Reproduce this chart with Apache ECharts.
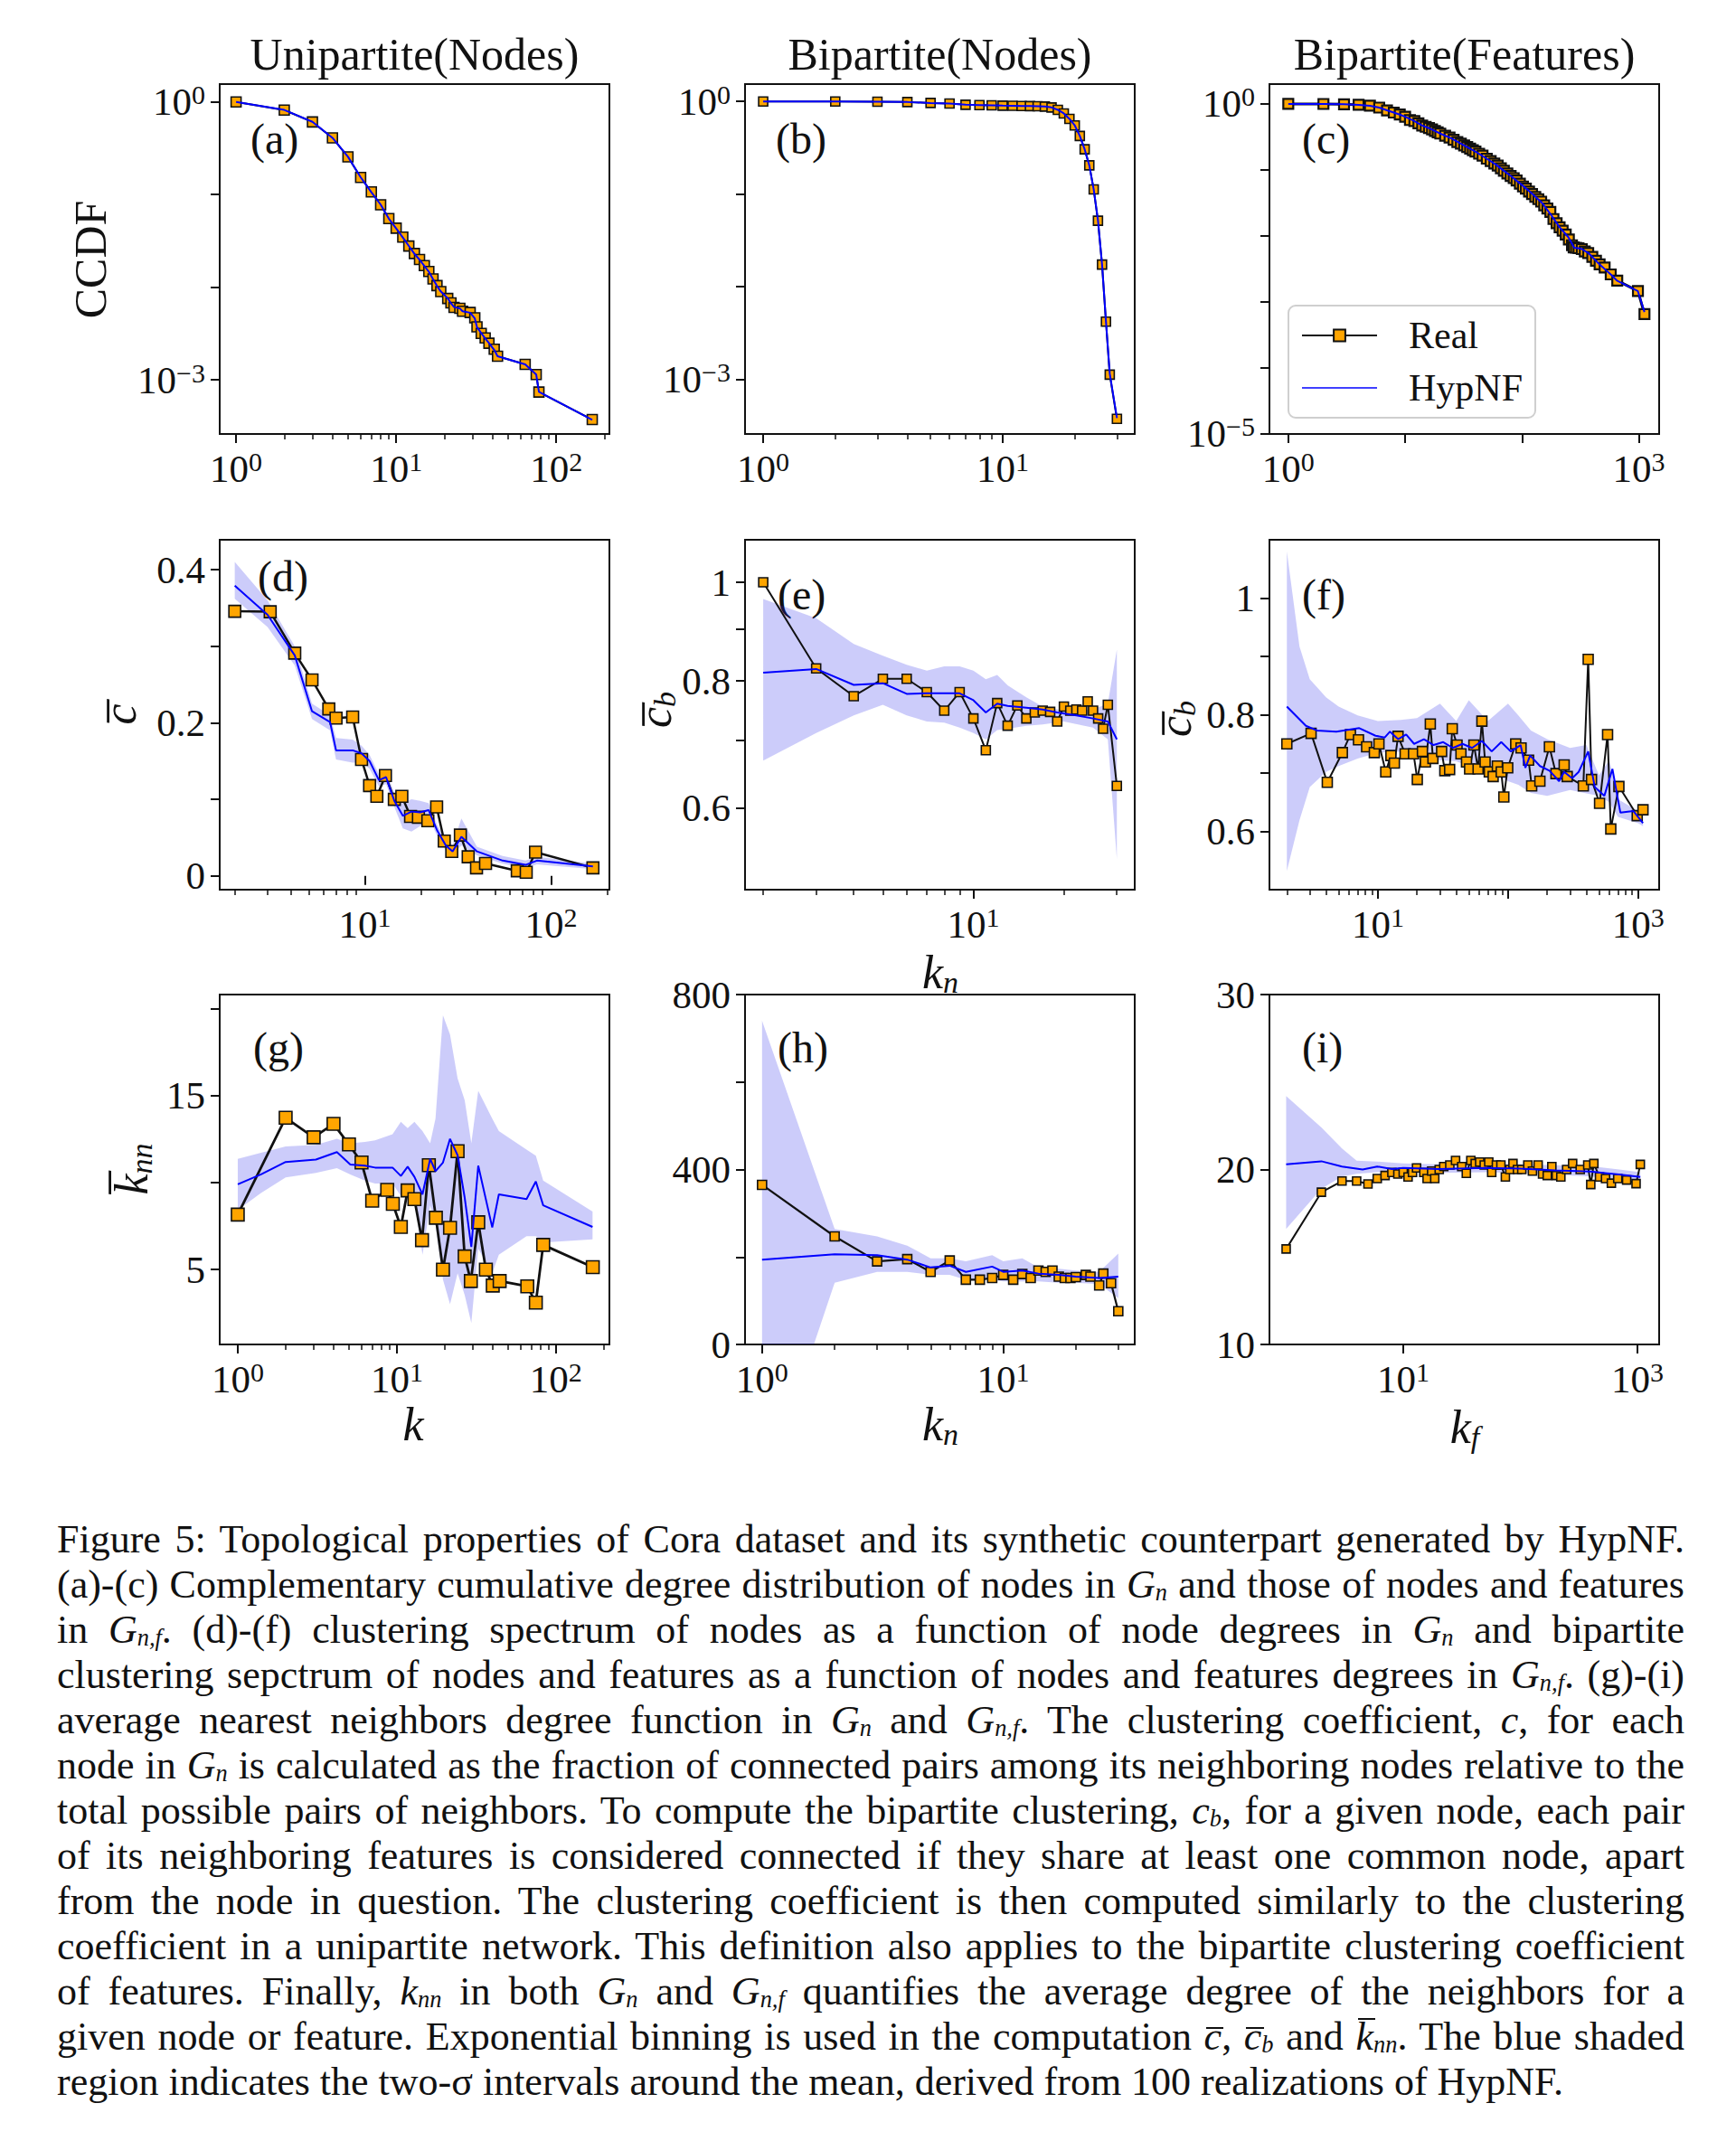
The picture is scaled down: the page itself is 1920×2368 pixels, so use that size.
<!DOCTYPE html>
<html><head><meta charset="utf-8">
<script src="https://cdn.jsdelivr.net/npm/echarts@6/dist/echarts.min.js"></script>
<style>
html,body{margin:0;padding:0;background:#fff;}
#chart{position:absolute;left:0;top:0;width:1920px;height:1660px;}
#cap{position:absolute;left:63px;top:1678px;width:1800px;font-family:'Liberation Serif','Times New Roman',serif;font-size:44px;line-height:50px;color:#111;word-spacing:-2px;}
#cap .l{text-align:justify;text-align-last:justify;white-space:nowrap;height:50px;}
#cap .l.last{text-align-last:left;word-spacing:0;}
#cap sub{font-size:0.6em;line-height:0;vertical-align:-0.1em;}
#cap .ov{position:relative;}
#cap .ov::before{content:'';position:absolute;left:0.05em;right:-0.05em;top:0.32em;border-top:2px solid #111;}
#cap .ov.tall::before{top:0.08em;}
</style></head>
<body>
<div id="chart"></div>
<div id="cap">
<div class="l">Figure 5: Topological properties of Cora dataset and its synthetic counterpart generated by HypNF.</div>
<div class="l">(a)-(c) Complementary cumulative degree distribution of nodes in <i>G</i><sub><i>n</i></sub> and those of nodes and features</div>
<div class="l">in <i>G</i><sub><i>n,f</i></sub>. (d)-(f) clustering spectrum of nodes as a function of node degrees in <i>G</i><sub><i>n</i></sub> and bipartite</div>
<div class="l">clustering sepctrum of nodes and features as a function of nodes and features degrees in <i>G</i><sub><i>n,f</i></sub>. (g)-(i)</div>
<div class="l">average nearest neighbors degree function in <i>G</i><sub><i>n</i></sub> and <i>G</i><sub><i>n,f</i></sub>. The clustering coefficient, <i>c</i>, for each</div>
<div class="l">node in <i>G</i><sub><i>n</i></sub> is calculated as the fraction of connected pairs among its neighboring nodes relative to the</div>
<div class="l">total possible pairs of neighbors. To compute the bipartite clustering, <i>c</i><sub><i>b</i></sub>, for a given node, each pair</div>
<div class="l">of its neighboring features is considered connected if they share at least one common node, apart</div>
<div class="l">from the node in question. The clustering coefficient is then computed similarly to the clustering</div>
<div class="l">coefficient in a unipartite network. This definition also applies to the bipartite clustering coefficient</div>
<div class="l">of features. Finally, <i>k</i><sub><i>nn</i></sub> in both <i>G</i><sub><i>n</i></sub> and <i>G</i><sub><i>n,f</i></sub> quantifies the average degree of the neighbors for a</div>
<div class="l">given node or feature. Exponential binning is used in the computation <span class="ov"><i>c</i></span>, <span class="ov"><i>c</i></span><sub><i>b</i></sub> and <span class="ov tall"><i>k</i></span><sub><i>nn</i></sub>. The blue shaded</div>
<div class="l last">region indicates the two-σ intervals around the mean, derived from 100 realizations of HypNF.</div>
</div>
<script>
// ---------------- DATA ----------------
// (a) Unipartite CCDF
const aRealK = [1,2,3,4,5,6,7,8,9,10,11,12,13,14,15,16,17,18,19,21,22,23,25,26,29,31,32,34,36,38,41,43,64,75,78,168];
const aRealCCDF = [1,0.818,0.608,0.41,0.255,0.153,0.107,0.0775,0.055,0.0434,0.0347,0.0278,0.0231,0.0199,0.0171,0.0148,0.0123,0.0104,0.00897,0.00756,0.00676,0.00605,0.00592,0.0055,0.00533,0.00467,0.00373,0.00317,0.00283,0.00248,0.00214,0.0018,0.00147,0.00114,0.000738,0.000372];
const aHypK = [1,2,3,4,5,6,7,8,9,10,11,12,13,14,15,16,17,18,19,21,22,23,25,26,29,31,32,34,36,38,41,43,64,75,78,168];
const aHypCCDF = [1,0.82,0.61,0.41,0.256,0.154,0.106,0.078,0.055,0.0432,0.0345,0.0279,0.023,0.0198,0.017,0.0147,0.0122,0.0103,0.009,0.0076,0.0067,0.0061,0.0059,0.0055,0.0053,0.0046,0.0037,0.0032,0.0028,0.0025,0.0021,0.0018,0.00147,0.00114,0.00074,0.00037];
// (b) Bipartite nodes CCDF
const bRealK = [1,2,3,4,5,6,7,8,9,10,11,12,13,14,15,16,17,18,19,20,21,22,23,24,25,26,27,28,30];
const bRealCCDF = [1,1,0.993,0.985,0.963,0.949,0.921,0.914,0.908,0.901,0.898,0.894,0.891,0.888,0.881,0.861,0.812,0.742,0.649,0.551,0.424,0.304,0.204,0.112,0.0515,0.0173,0.00418,0.00112,0.000373];
const bHypK = [1,2,3,4,5,6,7,8,9,10,11,12,13,14,15,16,17,18,19,20,21,22,23,24,25,26,27,28,30];
const bHypCCDF = [1,1,0.993,0.985,0.963,0.949,0.921,0.914,0.908,0.901,0.898,0.894,0.891,0.888,0.881,0.861,0.812,0.742,0.649,0.551,0.424,0.304,0.204,0.112,0.052,0.0175,0.0042,0.00115,0.00038];
// (c) Bipartite features CCDF
const cRealK = [1,2,3,4,5,6,7,8,9,10,11,12,13,14,15,16,17,18,19,20,22,24,26,28,30,32,34,36,38,40,43,46,50,54,58,62,66,70,75,80,85,90,96,102,108,115,122,130,138,146,155,165,175,186,198,210,223,237,252,268,277,290,305,325,345,369,400,430,462,510,575,654,983,1118];
const cRealCCDF = [1,0.998,0.99,0.97,0.94,0.88,0.80,0.74,0.69,0.64,0.57,0.55,0.51,0.47,0.45,0.43,0.41,0.39,0.37,0.355,0.33,0.31,0.285,0.265,0.25,0.235,0.222,0.21,0.199,0.19,0.176,0.165,0.148,0.136,0.125,0.116,0.106,0.097,0.088,0.081,0.075,0.069,0.062,0.056,0.052,0.047,0.043,0.039,0.036,0.033,0.029,0.026,0.023,0.018,0.0155,0.0135,0.012,0.0105,0.0088,0.0072,0.0067,0.0066,0.0065,0.0063,0.0058,0.0055,0.0048,0.0042,0.0037,0.0033,0.0026,0.0021,0.00146,0.00065];
const cHypK = [1,2,3,4,5,6,7,8,9,10,12,14,16,18,20,25,30,35,40,50,60,70,80,100,120,150,180,210,250,280,320,370,460,575,650,980,1118];
const cHypCCDF = [1,0.998,0.99,0.97,0.94,0.88,0.80,0.74,0.69,0.64,0.55,0.47,0.43,0.39,0.355,0.30,0.25,0.215,0.19,0.148,0.12,0.097,0.081,0.059,0.045,0.031,0.02,0.0135,0.0095,0.0066,0.0064,0.0055,0.0037,0.0026,0.0021,0.00146,0.0007];
// (d) clustering spectrum, unipartite
const dRealK = [2,3.1,4.2,5.2,6.4,7.0,8.6,9.6,10.6,11.6,12.9,14.4,15.8,17.6,19.4,21.8,24.3,26.7,29.3,32.6,35.9,39.8,44.5,65.9,73.6,82.6,168];
const dRealC = [0.3456,0.345,0.291,0.256,0.218,0.206,0.2076,0.152,0.118,0.104,0.131,0.0999,0.104,0.0777,0.0766,0.072,0.090,0.0455,0.0319,0.0533,0.0249,0.0105,0.0163,0.0066,0.0047,0.031,0.0105];
const dHypK = [2,3,4.2,5.2,6.5,7,8.6,9.6,10.6,11.9,13,14.4,16,17.8,19.8,22,24.5,27.2,29.6,33,40,55,73,84,168];
const dHypC = [0.379,0.341,0.288,0.215,0.201,0.164,0.164,0.16,0.150,0.125,0.129,0.098,0.0785,0.084,0.083,0.086,0.059,0.040,0.032,0.051,0.032,0.02,0.0144,0.02,0.0124];
const dBandLo = [0.362,0.325,0.275,0.205,0.19,0.152,0.148,0.148,0.14,0.117,0.12,0.09,0.062,0.058,0.065,0.077,0.052,0.033,0.026,0.04,0.027,0.016,0.010,0.015,0.009];
const dBandHi = [0.41,0.36,0.30,0.225,0.21,0.18,0.178,0.17,0.158,0.133,0.137,0.108,0.095,0.10,0.098,0.095,0.066,0.048,0.04,0.075,0.038,0.026,0.02,0.025,0.016];
// (e) bipartite clustering, nodes
const eRealK = [2,3,4,5,6,7,8,9,10,11,12,13,14,15,16,17,18,19,20,21,22,23,24,25,26,27,28,30];
const eRealCb = [1.0,0.823,0.773,0.804,0.804,0.780,0.748,0.780,0.735,0.684,0.761,0.723,0.757,0.735,0.745,0.748,0.746,0.730,0.755,0.748,0.750,0.748,0.764,0.748,0.735,0.718,0.758,0.631];
const eHypK = [2,3,4,5,6,7,9,10,11,12,13,15,17,19,22,25,28,30];
const eHypCb = [0.815,0.822,0.793,0.796,0.777,0.778,0.778,0.766,0.745,0.760,0.756,0.753,0.750,0.745,0.740,0.735,0.730,0.701];
const eBandK = [2,3,4,5,6,7,8,9,10,11,12,13,15,17,20,25,28,30];
const eBandLo = [0.668,0.711,0.740,0.758,0.740,0.730,0.728,0.720,0.711,0.701,0.716,0.718,0.723,0.725,0.730,0.720,0.701,0.535];
const eBandHi = [0.963,0.922,0.870,0.847,0.830,0.819,0.827,0.827,0.819,0.803,0.811,0.792,0.771,0.755,0.748,0.750,0.760,0.859];
// (f) bipartite clustering, features
const fRealK = [2.0,3.07,4.09,5.34,6.16,7.1,8.2,9.4,10.2,11.5,12.6,13.4,14.3,16.2,18.8,20.1,22,23.2,25.3,26.5,30.9,32.7,35.6,37.3,40.6,43.5,48,50.7,54.7,58.9,63,66.7,71.8,76.9,82.8,88.7,92.9,99.5,114.6,126,143.9,152,175.8,208,233.6,270,285,379,413,438,505,582,616,711,983,1089];
const fRealCb = [0.750,0.768,0.684,0.735,0.766,0.757,0.745,0.735,0.750,0.702,0.730,0.717,0.763,0.733,0.733,0.689,0.737,0.719,0.784,0.725,0.737,0.704,0.706,0.776,0.748,0.733,0.719,0.707,0.748,0.707,0.789,0.719,0.702,0.694,0.712,0.702,0.659,0.709,0.750,0.743,0.722,0.678,0.686,0.745,0.699,0.714,0.694,0.678,0.895,0.689,0.648,0.766,0.604,0.677,0.627,0.637];
const fHypK = [2,2.8,3.4,4.8,7.2,9.6,11.3,12.4,14.3,16.5,19,22.6,26.8,31.8,37.7,44.7,53,63,74.9,88.7,105,125,136,148,176,208,247,270,311,349,413,464,550,634,730,917,1089];
const fHypCb = [0.814,0.781,0.773,0.771,0.777,0.764,0.761,0.771,0.758,0.766,0.750,0.758,0.748,0.753,0.743,0.750,0.743,0.755,0.737,0.753,0.737,0.748,0.709,0.730,0.712,0.704,0.686,0.702,0.691,0.702,0.737,0.676,0.661,0.707,0.632,0.635,0.614];
const fBandK = [2,2.5,3,4,5,7,10,15,20,30,40,50,70,100,120,150,200,300,400,500,600,700,1000,1089];
const fBandLo = [0.532,0.619,0.676,0.702,0.712,0.725,0.735,0.737,0.732,0.722,0.72,0.712,0.707,0.686,0.68,0.666,0.661,0.671,0.665,0.661,0.65,0.625,0.614,0.609];
const fBandHi = [1.08,0.917,0.861,0.830,0.814,0.799,0.789,0.791,0.794,0.819,0.789,0.825,0.789,0.819,0.799,0.773,0.758,0.743,0.748,0.696,0.722,0.655,0.635,0.63];
// (g) average nearest neighbour degree, unipartite
const gRealK = [1,2,3,4,5,6,7,8.7,9.44,10.6,11.7,12.9,14.4,15.9,17.6,19.5,21.6,24.1,26.7,29.2,32.5,36.3,40.1,44.3,66.1,74.8,83.2,170.6];
const gRealKnn = [8.16,13.72,12.60,13.37,12.19,11.15,8.96,9.58,8.78,7.45,9.55,9.05,6.69,11.0,7.98,5.0,7.40,11.80,5.76,4.34,7.72,5.0,4.08,4.34,4.04,3.10,6.42,5.14];
const gHypK = [1,1.4,2,3.1,4.2,5.1,6.3,7.3,9.4,10.6,11.7,12.9,14.5,16.2,17.5,19.5,21.6,24.1,26.7,29.4,32.5,39.8,43.8,65.4,74.8,83.2,170];
const gHypKnn = [9.90,10.47,11.18,11.32,11.75,11.04,10.97,10.86,10.86,10.38,10.91,10.33,9.32,11.36,10.65,11.15,12.51,11.57,9.14,6.30,10.97,7.42,9.32,9.05,10.06,8.69,7.45];
const gBandLo = [8.43,9.40,10.29,10.56,10.83,10.47,10.12,9.94,9.94,9.23,9.76,9.05,5.85,8.69,7.63,4.43,3.01,4.79,3.54,1.94,6.21,4.79,5.85,6.92,6.92,6.56,6.74];
const gBandHi = [11.36,11.71,12.07,12.16,12.51,12.25,12.34,12.42,12.78,13.49,13.13,13.49,12.96,12.25,13.67,19.6,18.5,15.98,14.73,12.25,15.27,13.67,12.96,11.89,11.54,10.12,8.34];
// (h) average nearest neighbour degree, bipartite nodes
const hRealK = [1,2,3,4,5,6,7,8,9,10,11,12,13,14,15,16,17,18,19,20,22,23,25,26,28,30];
const hRealKnn = [365,247,190,195,166,192,148,148,152,159,148,161,152,169,166,169,155,152,152,154,159,155,135,162,140,76];
const hHypK = [1,2,3,4,5,6,7,9,10,12,14,17,20,25,30];
const hHypKnn = [194,206,204,194,176,180,166,178,166,169,162,159,155,152,155];
const hBandK = [1,1.64,2,3,4,5,6,7,9,10,12,14,17,20,25,30];
const hBandLo = [0,0,141,166,166,159,159,148,148,144,144,144,141,141,138,106];
const hBandHi = [740,400,264,247,226,197,197,190,204,190,197,176,173,169,166,208];
// (i) average nearest neighbour degree, bipartite features
const iRealK = [1,2,3,4,5,6,7,8,9,10,11,12,13,15,16,17.5,18.6,20.3,22.2,25,28,31.6,34.6,37.8,41.2,45,49.2,53.8,57,62.5,68.3,74.6,81.5,86.6,94.6,103,116,127,142,155,170,186,203,222,249,280,325,377,400,425,475,535,600,680,810,975,1060];
const iRealKnn = [15.46,18.7,19.34,19.34,19.17,19.48,19.66,19.83,19.74,19.83,19.57,19.83,20.09,19.83,19.48,19.91,19.48,20.0,20.17,20.26,20.52,20.17,19.78,20.52,20.34,20.43,20.26,20.43,19.83,20.26,20.26,19.57,20.0,20.34,20.0,20.0,20.26,19.91,20.26,19.74,19.66,20.17,19.66,19.57,20.0,20.34,20.0,20.26,19.14,20.34,19.57,19.48,19.22,19.48,19.40,19.19,20.29];
const iHypK = [1,2,3,4.5,6,8,10,20,50,100,200,400,700,1060];
const iHypKnn = [20.3,20.47,20.17,20.0,20.17,20.03,20.09,20.03,20.09,20.05,19.95,19.88,19.71,19.57];
const iBandK = [1,2,3,4,6,10,20,50,100,200,400,700,1060];
const iBandLo = [16.6,18.9,19.6,19.75,19.85,19.85,19.8,19.85,19.8,19.7,19.6,19.45,19.3];
const iBandHi = [24.2,22.4,21.2,20.5,20.45,20.35,20.3,20.35,20.3,20.25,20.2,20.0,19.85];

// tick labels / titles
const colTitles = ['Unipartite(Nodes)','Bipartite(Nodes)','Bipartite(Features)'];
const panelLetters = ['(a)','(b)','(c)','(d)','(e)','(f)','(g)','(h)','(i)'];

// ---------------- STYLE / LAYOUT ----------------
const FONT = "'Liberation Serif','Times New Roman',serif";
const COL_L = [243, 824, 1404], COL_W = 431;
const ROW_T = [93, 597, 1100], ROW_H = 387;
const ORANGE = '#FFA500', BLUE = '#0000FF', BAND = 'rgba(40,40,235,0.24)';

function minorsFor(decs, lo, hi) {
  const out = [];
  decs.forEach(d => { for (let m = 2; m <= 9; m++) { const v = m * d; if (v > lo && v < hi) out.push(v); } });
  return out;
}
const zip2 = (xs, ys) => xs.map((x, j) => [x, ys[j]]);
const zip3 = (xs, a, b) => xs.map((x, j) => [x, a[j], b[j]]);

const P = [
  { x:{min:0.79,max:215,major:[1,10,100],lab:[1,10,100],minor:minorsFor([1,10,100],0.79,215)},
    y:{type:'log',min:2.6e-4,max:1.56,major:[1,0.1,0.01,0.001],lab:[1,0.001]},
    real:[aRealK,aRealCCDF], hyp:[aHypK,aHypCCDF], sz:11, lw:2, bw:1.6 },
  { x:{min:0.84,max:35.6,major:[1,10],lab:[1,10],minor:minorsFor([1,10],0.84,35.6)},
    y:{type:'log',min:2.56e-4,max:1.54,major:[1,0.1,0.01,0.001],lab:[1,0.001]},
    real:[bRealK,bRealCCDF], hyp:[bHypK,bHypCCDF], sz:10, lw:2, bw:1.6 },
  { x:{min:0.69,max:1493,major:[1,10,100,1000],lab:[1,1000],minor:[]},
    y:{type:'log',min:9.9e-6,max:2,major:[1,0.1,0.01,0.001,1e-4,1e-5],lab:[1,1e-5]},
    real:[cRealK,cRealCCDF], hyp:[cHypK,cHypCCDF], sz:11, lw:3, bw:2.2 },
  { x:{min:1.66,max:206,major:[10,100],lab:[10,100],minor:minorsFor([1,10,100],1.66,206)},
    y:{type:'value',min:-0.018,max:0.439,major:[0,0.1,0.2,0.3,0.4],lab:[0,0.2,0.4]},
    real:[dRealK,dRealC], hyp:[dHypK,dHypC], band:[dHypK,dBandLo,dBandHi], sz:13, lw:2.5, bw:1.6 },
  { x:{min:1.74,max:34.4,major:[10],lab:[10],minor:minorsFor([1,10],1.74,34.4)},
    y:{type:'log',min:0.499,max:1.101,major:[0.6,0.7,0.8,0.9,1],lab:[0.6,0.8,1]},
    real:[eRealK,eRealCb], hyp:[eHypK,eHypCb], band:[eBandK,eBandLo,eBandHi], sz:10, lw:2, bw:1.6 },
  { x:{min:1.47,max:1449,major:[10,100,1000],lab:[10,1000],minor:minorsFor([1,10,100],1.47,1449)},
    y:{type:'value',min:0.5,max:1.1,major:[0.6,0.7,0.8,0.9,1],lab:[0.6,0.8,1]},
    real:[fRealK,fRealCb], hyp:[fHypK,fHypCb], band:[fBandK,fBandLo,fBandHi], sz:11, lw:2, bw:1.6 },
  { x:{min:0.77,max:217,major:[1,10,100],lab:[1,10,100],minor:minorsFor([1,10,100],0.77,217)},
    y:{type:'value',min:0.7,max:20.8,major:[5,10,15,20],lab:[5,15]},
    real:[gRealK,gRealKnn], hyp:[gHypK,gHypKnn], band:[gHypK,gBandLo,gBandHi], sz:14, lw:2.8, bw:1.6 },
  { x:{min:0.85,max:35.1,major:[1,10],lab:[1,10],minor:minorsFor([1,10],0.85,35.1)},
    y:{type:'value',min:0,max:800,major:[0,200,400,600,800],lab:[0,400,800]},
    real:[hRealK,hRealKnn], hyp:[hHypK,hHypKnn], band:[hBandK,hBandLo,hBandHi], sz:10, lw:2.2, bw:1.6 },
  { x:{min:0.72,max:1535,major:[10,1000],lab:[10,1000],minor:[]},
    y:{type:'value',min:10,max:30,major:[10,20,30],lab:[10,20,30]},
    real:[iRealK,iRealKnn], hyp:[iHypK,iHypKnn], band:[iBandK,iBandLo,iBandHi], sz:9, lw:2, bw:1.6 }
];

const RICH = {
  b: { fontFamily: FONT, fontSize: 43, color: '#111', lineHeight: 46 },
  s: { fontFamily: FONT, fontSize: 30, color: '#111', lineHeight: 22, verticalAlign: 'top' }
};
function powLabel(v) {
  const e = Math.round(Math.log10(v));
  return '{b|10}{s|' + (e < 0 ? '\u2212' + (-e) : e) + '}';
}
function numLabel(v) { return '{b|' + parseFloat((+v).toFixed(3)) + '}'; }

const grids = [], xAxes = [], yAxes = [], series = [];
P.forEach((p, i) => {
  const col = i % 3, row = Math.floor(i / 3);
  grids.push({ left: COL_L[col], top: ROW_T[row], width: COL_W, height: ROW_H,
    show: true, borderColor: '#111', borderWidth: 2, backgroundColor: 'transparent',
    containLabel: false, outerBoundsMode: 'none' });
  xAxes.push({ type: 'log', logBase: 10, gridIndex: i, min: p.x.min, max: p.x.max,
    axisLine: { show: false }, splitLine: { show: false }, minorTick: { show: false },
    axisTick: { show: true, inside: false, length: 10, lineStyle: { color: '#111', width: 2 }, customValues: p.x.major },
    axisLabel: { show: true, customValues: p.x.lab, formatter: powLabel, margin: 15, rich: RICH } });
  xAxes.push({ type: 'log', logBase: 10, gridIndex: i, min: p.x.min, max: p.x.max, position: 'bottom',
    axisLine: { show: false }, splitLine: { show: false }, axisLabel: { show: false },
    axisTick: { show: p.x.minor.length > 0, inside: false, length: 6, lineStyle: { color: '#111', width: 1.5 },
      customValues: p.x.minor.length ? p.x.minor : undefined } });
  const ylog = p.y.type === 'log';
  yAxes.push({ type: p.y.type, gridIndex: i, min: p.y.min, max: p.y.max,
    axisLine: { show: false }, splitLine: { show: false }, minorTick: { show: false },
    axisTick: { show: true, inside: false, length: 10, lineStyle: { color: '#111', width: 2 }, customValues: p.y.major },
    axisLabel: { show: true, customValues: p.y.lab,
      formatter: (ylog && i < 3) ? powLabel : numLabel, margin: 16, rich: RICH } });
  if (p.band) {
    const bd = zip3(p.band[0], p.band[1], p.band[2]);
    series.push({ type: 'custom', name: 'band' + i, xAxisIndex: 2 * i, yAxisIndex: i, data: bd,
      encode: { x: 0, y: [1, 2] }, clip: true, silent: true, z: 1, animation: false,
      renderItem: function (params, api) {
        if (params.dataIndex !== 0) return null;
        const top = bd.map(d => api.coord([d[0], d[2]]));
        const bot = bd.map(d => api.coord([d[0], d[1]])).reverse();
        return { type: 'polygon', shape: { points: top.concat(bot) }, style: { fill: BAND } };
      } });
  }
  series.push({ name: 'Real', type: 'line', xAxisIndex: 2 * i, yAxisIndex: i,
    data: zip2(p.real[0], p.real[1]), symbol: 'rect', symbolSize: p.sz, showSymbol: true, showAllSymbol: true,
    lineStyle: { color: '#111', width: p.lw }, itemStyle: { color: ORANGE, borderColor: '#111', borderWidth: p.bw },
    z: 3, silent: true, animation: false });
  series.push({ name: 'HypNF', type: 'line', xAxisIndex: 2 * i, yAxisIndex: i,
    data: zip2(p.hyp[0], p.hyp[1]), symbol: 'none', showSymbol: false,
    lineStyle: { color: BLUE, width: 2 }, itemStyle: { color: BLUE },
    z: 4, silent: true, animation: false });
});

// texts
const graphics = [];
const TXT = (x, y, text, opts) => Object.assign({ type: 'text', x: x, y: y, silent: true,
  style: Object.assign({ text: text, fontFamily: FONT, fontSize: 50, fill: '#111', align: 'center', verticalAlign: 'middle' }, opts || {}) });
colTitles.forEach((t, c) => graphics.push(TXT(COL_L[c] + COL_W / 2, 60, t, { fontSize: 50 })));
const letterPos = [[277,153],[858,153],[1440,153],[285,637],[860,657],[1440,657],[280,1158],[860,1158],[1440,1158]];
panelLetters.forEach((t, i) => graphics.push(TXT(letterPos[i][0], letterPos[i][1], t, { fontSize: 48, align: 'left' })));
const NR = {
  i: { fontFamily: FONT, fontSize: 52, fontStyle: 'italic', fill: '#111', lineHeight: 56 },
  s: { fontFamily: FONT, fontSize: 34, fontStyle: 'italic', fill: '#111', lineHeight: 30, verticalAlign: 'bottom' },
  u: { fontFamily: FONT, fontSize: 50, fill: '#111' }
};
function rotName(x, y, text) {
  const g = TXT(x, y, text, { rich: NR });
  g.rotation = Math.PI / 2;
  return g;
}
graphics.push(rotName(100, 287, '{u|CCDF}'));
graphics.push(rotName(132, 790, '{i|c\u0305}'));
graphics.push(rotName(724, 785, '{i|c\u0305}{s|b}'));
graphics.push(rotName(1299, 795, '{i|c\u0305}{s|b}'));
graphics.push(rotName(145, 1293, '{i|k\u0305}{s|nn}'));
graphics.push(TXT(1040, 1075, '{i|k}{s|n}', { rich: NR }));
graphics.push(TXT(457, 1575, '{i|k}', { rich: NR }));
graphics.push(TXT(1040, 1575, '{i|k}{s|n}', { rich: NR }));
graphics.push(TXT(1620, 1578, '{i|k}{s|f}', { rich: NR }));

const chart = echarts.init(document.getElementById('chart'), null, { renderer: 'svg' });
chart.setOption({
  backgroundColor: '#fff',
  animation: false,
  grid: grids,
  xAxis: xAxes,
  yAxis: yAxes,
  legend: {
    data: [
      { name: 'Real' },
      { name: 'HypNF', icon: 'path://M0,0 L0,0 M0,7.2 L83,7.2 L83,8.8 L0,8.8 Z M83,16 L83,16' }
    ],
    orient: 'vertical', left: 1425, top: 338,
    itemWidth: 83, itemHeight: 16, itemGap: 16, selectedMode: false,
    padding: [12, 14, 12, 14], borderColor: '#cfcfcf', borderWidth: 2, borderRadius: 8,
    backgroundColor: '#fff',
    textStyle: { fontFamily: FONT, fontSize: 42, color: '#111', padding: [0, 0, 0, 30] }
  },
  graphic: graphics,
  series: series
});
</script>
</body></html>
